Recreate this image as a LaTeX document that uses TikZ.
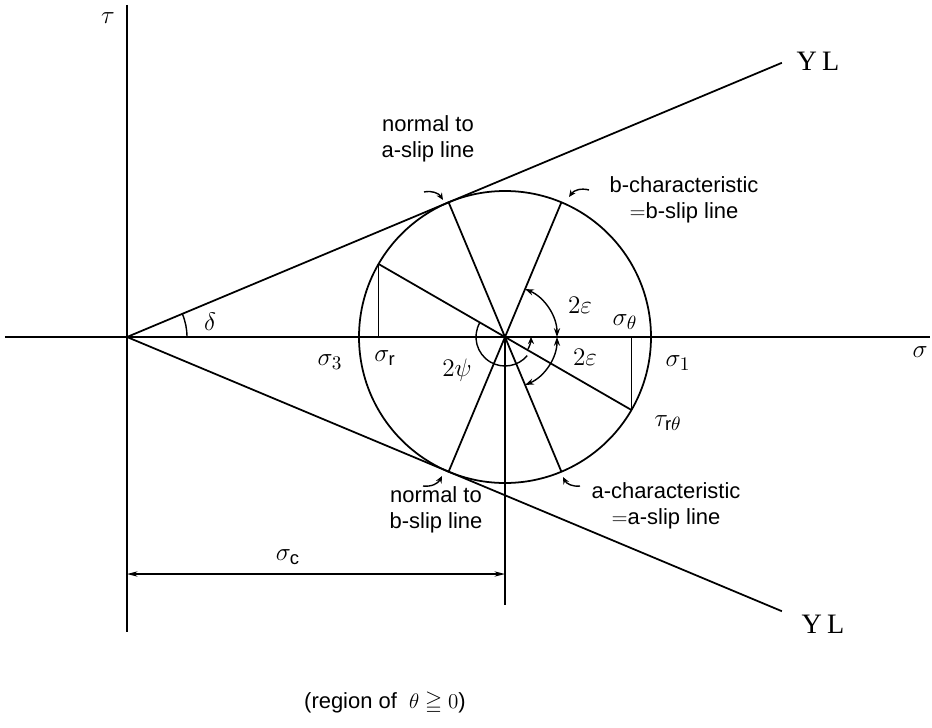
\documentclass[tikz,border=0pt]{standalone}
\usepackage{amsmath}
\usepackage{amssymb}
\usepackage{fontspec}
\setmainfont{Liberation Sans}
\newfontfamily\ylfont{Liberation Serif}
\usetikzlibrary{arrows.meta, calc, positioning}

\begin{document}
\begin{tikzpicture}[
    x=0.02cm, y=0.02cm,
    line width=1pt,
    pointer/.style={-{Stealth[length=4pt, width=3.5pt]}, line width=0.8pt},
    angarrow/.style={{Stealth[length=5pt, width=3.5pt]}-{Stealth[length=5pt, width=3.5pt]}, line width=0.8pt},
    dimline/.style={{Stealth[length=6pt, width=3pt]}-{Stealth[length=6pt, width=3pt]}, line width=0.8pt},
    note/.style={align=center, font=\fontsize{12.5}{14.5}\selectfont, inner sep=1pt},
    sym/.style={font=\fontsize{15}{17}\selectfont, inner sep=1pt},
    yl/.style={font=\ylfont\fontsize{16}{18}\selectfont, inner sep=1pt}
  ]
  \useasboundingbox (-127,-390) rectangle (805,337);

  % Origin and circle centre
  \coordinate (o) at (0,0);
  \coordinate (c) at (378,0);

  % Axes
  \coordinate (sigl) at (-122,0);
  \coordinate (sigr) at (803,0);
  \coordinate (taut) at (0,332);
  \coordinate (taub) at (0,-295);
  \draw (sigl) -- (sigr);
  \draw (taut) -- (taub);

  % Yield lines
  \coordinate (ylu) at (22.72:710);
  \coordinate (yld) at (-22.72:710);
  \draw (o) -- (ylu);
  \draw (o) -- (yld);
  \node[yl, anchor=west] (ylulab) at (667,276) {Y\hspace{3pt}L};
  \node[yl, anchor=west] (yldlab) at (672,-287) {Y\hspace{3pt}L};

  % Mohr circle
  \draw (c) circle[radius=146];

  % Points on the circle
  \coordinate (t1) at ($(c)+(112.72:146)$);
  \coordinate (a1) at ($(c)+(-67.28:146)$);
  \coordinate (b1) at ($(c)+(67.28:146)$);
  \coordinate (t2) at ($(c)+(-112.72:146)$);
  \coordinate (p1) at ($(c)+(150:146)$);
  \coordinate (p2) at ($(c)+(-30:146)$);

  % Diameters
  \draw (t1) -- (a1);
  \draw (b1) -- (t2);
  \draw (p1) -- (p2);
  \draw (p1) -- (p1 |- o);
  \draw (p2) -- (p2 |- o);

  % Angles
  \draw[line width=0.8pt] (60,0) arc[start angle=0, end angle=22.72, radius=60];
  \draw[angarrow] ($(c)+(0:52)$) arc[start angle=0, end angle=67.28, radius=52];
  \draw[angarrow] ($(c)+(0:52)$) arc[start angle=0, end angle=-67.28, radius=52];
  \draw[line width=0.8pt] ($(c)+(150:29)$) arc[start angle=150, end angle=320, radius=29];
  \draw[pointer] ($(c)+(-28:26)$) arc[start angle=-28, end angle=0, radius=26];

  % Dimension sigma c
  \coordinate (cb) at (378,-268);
  \coordinate (diml) at (0,-237);
  \coordinate (dimr) at (378,-237);
  \draw[line width=0.8pt] (c) -- (cb);
  \draw[dimline] (diml) -- (dimr);

  % Symbols
  \node[sym] (tau) at (-19,319) {$\tau$};
  \node[sym] (sig) at (793,-15) {$\sigma$};
  \node[sym] (delta) at (83,15) {$\delta$};
  \node[sym] (sig3) at (203,-25) {$\sigma_3$};
  \node[sym] (sigr) at (258,-21) {$\sigma_{\mathrm{r}}$};
  \node[sym] (psi) at (330,-33) {$2\psi$};
  \node[sym] (epsu) at (453,32) {$2\varepsilon$};
  \node[sym] (sigth) at (498,15) {$\sigma_{\theta}$};
  \node[sym] (epsd) at (458,-20) {$2\varepsilon$};
  \node[sym] (sig1) at (551,-26) {$\sigma_1$};
  \node[sym] (taurth) at (541,-86) {$\tau_{\mathrm{r}\theta}$};
  \node[sym] (sigc) at (161,-220) {$\sigma_{\mathrm{c}}$};

  % Notes
  \node[note] (nota) at (301,198) {normal to\\a-slip line};
  \node[note] (charb) at (557,137) {b-characteristic\\$=$b-slip line};
  \node[note] (notb) at (309,-173) {normal to\\b-slip line};
  \node[note] (chara) at (539,-169) {a-characteristic\\$=$a-slip line};
  \node[note] (region) at (258,-366) {(region of\ \ $\theta \geqq 0$)};

  % Pointers to the circle
  \coordinate (notat) at (297,145);
  \coordinate (notah) at (316,137);
  \coordinate (charbt) at (462,147);
  \coordinate (charbh) at (442,140);
  \coordinate (notbt) at (296,-149);
  \coordinate (notbh) at (315,-139);
  \coordinate (charat) at (453,-149);
  \coordinate (charah) at (436,-140);
  \draw[pointer] (notat) to[bend left=35] (notah);
  \draw[pointer] (charbt) to[bend right=35] (charbh);
  \draw[pointer] (notbt) to[bend right=35] (notbh);
  \draw[pointer] (charat) to[bend left=35] (charah);
\end{tikzpicture}
\end{document}
